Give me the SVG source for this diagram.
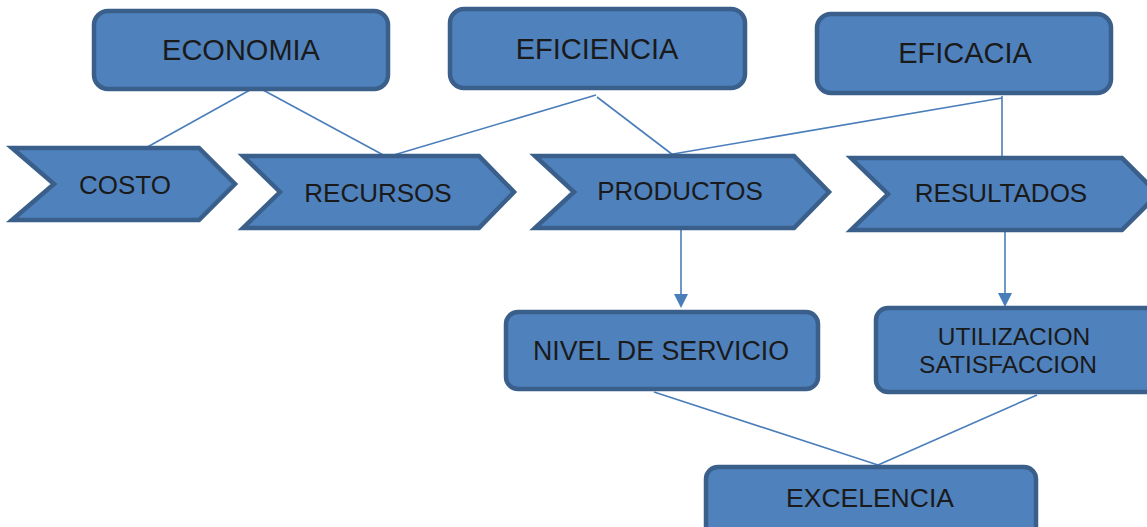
<svg xmlns="http://www.w3.org/2000/svg" width="1147" height="527" viewBox="0 0 1147 527">
<style>
.box{fill:#4F81BD;stroke:#3A5F8B;stroke-width:4.5}
.t{font-family:"Liberation Sans",Arial,sans-serif;fill:#1a1a1a;text-anchor:middle}
.c{stroke:#4A7EBB;stroke-width:1.6;fill:none}
.ah{fill:#4A7EBB}
</style>
<rect width="1147" height="527" fill="#fff"/>
<g id="connectors">
<line class="c" x1="250" y1="90" x2="142" y2="150"/>
<line class="c" x1="263" y1="90" x2="387" y2="157"/>
<line class="c" x1="596" y1="95" x2="387" y2="157"/>
<line class="c" x1="597" y1="97" x2="673" y2="155"/>
<line class="c" x1="1002" y1="98" x2="667" y2="155"/>
<line class="c" x1="1002" y1="96" x2="1002" y2="157"/>
<line class="c" x1="681" y1="230" x2="681" y2="296"/>
<path class="ah" d="M674,294 L688,294 L681,308 Z"/>
<line class="c" x1="1005" y1="232" x2="1005" y2="294"/>
<path class="ah" d="M998,293 L1012,293 L1005,307 Z"/>
<line class="c" x1="654" y1="392" x2="878" y2="465"/>
<line class="c" x1="1037" y1="395" x2="878" y2="465"/>
</g>
<g id="economia">
<rect class="box" x="94" y="11" width="294" height="78" rx="14"/>
<text class="t" x="241" y="60" font-size="29">ECONOMIA</text>
</g>
<g id="eficiencia">
<rect class="box" x="450" y="9" width="295" height="79" rx="14"/>
<text class="t" x="597" y="59" font-size="29">EFICIENCIA</text>
</g>
<g id="eficacia">
<rect class="box" x="817" y="14" width="294" height="79" rx="14"/>
<text class="t" x="965" y="63" font-size="29">EFICACIA</text>
</g>
<g id="costo">
<path class="box" d="M12,148 L199,148 L235,184 L199,220 L12,220 L54,184 Z"/>
<text class="t" x="125" y="194" font-size="26">COSTO</text>
</g>
<g id="recursos">
<path class="box" d="M243,156 L479,156 L514,192 L479,228 L243,228 L280,192 Z"/>
<text class="t" x="378" y="202" font-size="26">RECURSOS</text>
</g>
<g id="productos">
<path class="box" d="M535,156 L794,156 L829,192 L794,228 L535,228 L574,192 Z"/>
<text class="t" x="680" y="200" font-size="26">PRODUCTOS</text>
</g>
<g id="resultados">
<path class="box" d="M851,158 L1122,158 L1158,194 L1122,230 L851,230 L888,194 Z"/>
<text class="t" x="1001" y="202" font-size="26">RESULTADOS</text>
</g>
<g id="nivel">
<rect class="box" x="506" y="312" width="312" height="77" rx="12"/>
<text class="t" x="661" y="360" font-size="26.8">NIVEL DE SERVICIO</text>
</g>
<g id="utilizacion">
<rect class="box" x="876" y="308" width="290" height="84" rx="12"/>
<text class="t" x="1014" y="345" font-size="24.5">UTILIZACION</text>
<text class="t" x="1008" y="373" font-size="24.5">SATISFACCION</text>
</g>
<g id="excelencia">
<rect class="box" x="706" y="467" width="330" height="80" rx="12"/>
<text class="t" x="870" y="507" font-size="26.5">EXCELENCIA</text>
</g>
</svg>
